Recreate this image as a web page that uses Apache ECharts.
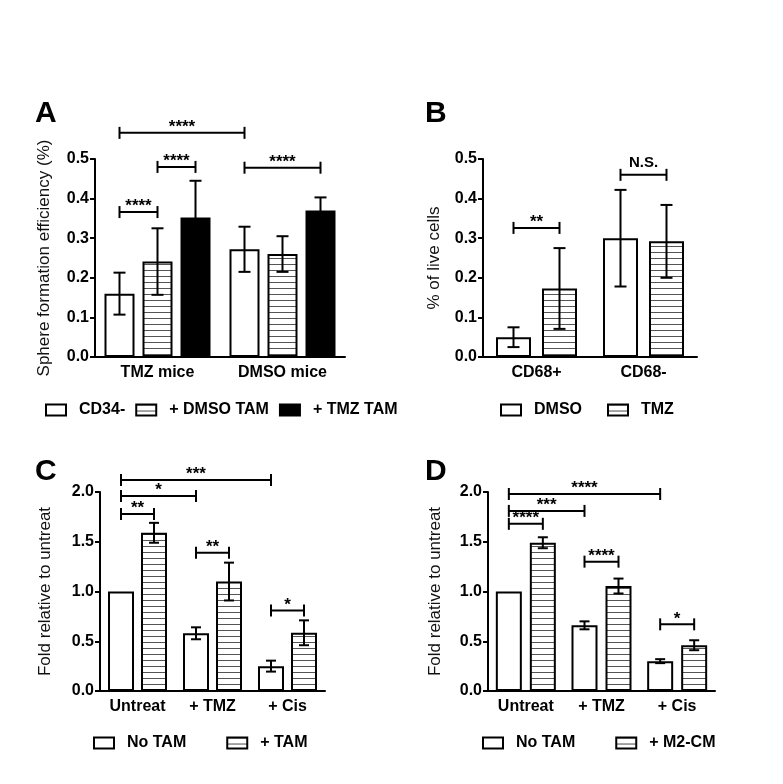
<!DOCTYPE html>
<html>
<head>
<meta charset="utf-8">
<title>TAM figure</title>
<script src="https://cdn.jsdelivr.net/npm/echarts@6/dist/echarts.min.js"></script>
<style>
  html, body { margin: 0; padding: 0; background: #fff; }
  #chart { width: 783px; height: 784px; }
</style>
</head>
<body>
<div id="chart"></div>
<script>
  // panel A - sphere formation
  var catsA = ['TMZ mice', 'DMSO mice']
  var cd34A = [0.16, 0.272]
  var cd34ErrA = [0.053, 0.057]
  var dmsoTamA = [0.241, 0.26]
  var dmsoTamErrA = [0.084, 0.045]
  var tmzTamA = [0.352, 0.37]
  var tmzTamErrA = [0.093, 0.033]
  // [cat1, bar1, cat2, bar2, height, label]
  var sigA = [[0, 0, 1, 0, 0.566, '****'], [0, 1, 0, 2, 0.48, '****'], [0, 0, 0, 1, 0.366, '****'], [1, 0, 1, 2, 0.478, '****']]

  // panel B - % of live cells
  var catsB = ['CD68+', 'CD68-']
  var dmsoB = [0.05, 0.30]
  var dmsoErrB = [0.025, 0.122]
  var tmzB = [0.173, 0.292]
  var tmzErrB = [0.102, 0.092]
  var sigB = [[0, 0, 0, 1, 0.326, '**'], [1, 0, 1, 1, 0.46, 'N.S.']]

  // panel C - fold relative to untreat (TAM)
  var catsC = ['Untreat', '+ TMZ', '+ Cis']
  var noTamC = [1.0, 0.58, 0.25]
  var noTamErrC = [0, 0.06, 0.055]
  var tamC = [1.59, 1.10, 0.585]
  var tamErrC = [0.10, 0.19, 0.125]
  var sigC = [[0, 0, 2, 0, 2.12, '***'], [0, 0, 1, 0, 1.96, '*'], [0, 0, 0, 1, 1.78, '**'], [1, 0, 1, 1, 1.39, '**'], [2, 0, 2, 1, 0.81, '*']]

  // panel D - fold relative to untreat (M2-CM)
  var catsD = ['Untreat', '+ TMZ', '+ Cis']
  var noTamD = [1.0, 0.66, 0.30]
  var noTamErrD = [0, 0.04, 0.02]
  var m2cmD = [1.49, 1.055, 0.46]
  var m2cmErrD = [0.055, 0.075, 0.05]
  var sigD = [[0, 0, 2, 0, 1.98, '****'], [0, 0, 1, 0, 1.81, '***'], [0, 0, 0, 1, 1.68, '****'], [1, 0, 1, 1, 1.30, '****'], [2, 0, 2, 1, 0.67, '*']]

  var FONT = '"Liberation Sans", Arial, sans-serif'

  // horizontal hatch used for the striped bars
  function hatch() {
    var c = document.createElement('canvas')
    c.width = 6
    c.height = 6
    var ctx = c.getContext('2d')
    ctx.fillStyle = '#fff'
    ctx.fillRect(0, 0, 6, 6)
    ctx.fillStyle = '#555'
    ctx.fillRect(0, 0, 6, 1)
    return c
  }
  var striped = { image: hatch(), repeat: 'repeat' }

  // bar layout per panel: width and gap in px, bars per group
  var layout = [
    { bw: 30, gap: 8, n: 3, cap: 6 },
    { bw: 35, gap: 11, n: 2, cap: 6 },
    { bw: 26, gap: 7, n: 2, cap: 5 },
    { bw: 26, gap: 8, n: 2, cap: 5 }
  ]

  function offset(gi, si) {
    var l = layout[gi]
    return (si - (l.n - 1) / 2) * (l.bw + l.gap)
  }

  function bar(gi, si, name, values, fill) {
    var l = layout[gi]
    return {
      type: 'bar', name: name, xAxisIndex: gi, yAxisIndex: gi,
      data: values, barWidth: l.bw, barGap: (l.gap / l.bw * 100) + '%',
      itemStyle: { color: fill, borderColor: '#000', borderWidth: 2 },
      animation: false
    }
  }

  function errorBars(gi, si, values, errs) {
    return {
      type: 'custom', xAxisIndex: gi, yAxisIndex: gi, z: 5, silent: true, animation: false,
      data: values.map(function (v, i) { return [i, v - errs[i], v + errs[i]] }),
      renderItem: function (params, api) {
        if (api.value(1) === api.value(2)) return
        var lo = api.coord([api.value(0), api.value(1)])
        var hi = api.coord([api.value(0), api.value(2)])
        var x = lo[0] + offset(gi, si)
        var h = layout[gi].cap
        var st = { stroke: '#000', lineWidth: 2 }
        return {
          type: 'group', children: [
            { type: 'line', shape: { x1: x, y1: lo[1], x2: x, y2: hi[1] }, style: st },
            { type: 'line', shape: { x1: x - h, y1: hi[1], x2: x + h, y2: hi[1] }, style: st },
            { type: 'line', shape: { x1: x - h, y1: lo[1], x2: x + h, y2: lo[1] }, style: st }
          ]
        }
      }
    }
  }

  function brackets(gi, sig) {
    return {
      type: 'custom', xAxisIndex: gi, yAxisIndex: gi, z: 6, silent: true, animation: false, clip: false,
      data: sig.map(function (s) { return [s[0], s[4], s[2], s[1], s[3]] }),
      renderItem: function (params, api) {
        var a = api.coord([api.value(0), api.value(1)])
        var b = api.coord([api.value(2), api.value(1)])
        var x1 = a[0] + offset(gi, api.value(3))
        var x2 = b[0] + offset(gi, api.value(4))
        var y = a[1]
        var label = sig[params.dataIndex][5]
        var st = { stroke: '#000', lineWidth: 2 }
        var stars = label.indexOf('*') >= 0
        return {
          type: 'group', children: [
            { type: 'line', shape: { x1: x1, y1: y, x2: x2, y2: y }, style: st },
            { type: 'line', shape: { x1: x1, y1: y - 6, x2: x1, y2: y + 6 }, style: st },
            { type: 'line', shape: { x1: x2, y1: y - 6, x2: x2, y2: y + 6 }, style: st },
            {
              type: 'text', x: (x1 + x2) / 2, y: stars ? y + 3 : y - 4,
              style: {
                text: label, fill: '#000', align: 'center', verticalAlign: 'bottom',
                font: (stars ? 'bold 17px ' : 'bold 15px ') + FONT
              }
            }
          ]
        }
      }
    }
  }

  function xAx(gi, cats) {
    return {
      type: 'category', gridIndex: gi, data: cats,
      axisLine: { lineStyle: { color: '#000', width: 2 } },
      axisTick: { alignWithLabel: true, length: 5, lineStyle: { color: '#000', width: 2 } },
      axisLabel: { color: '#000', fontWeight: 'bold', fontSize: 16, fontFamily: FONT, margin: 8 }
    }
  }

  function yAx(gi, max, interval, name, gap) {
    return {
      type: 'value', gridIndex: gi, min: 0, max: max, interval: interval,
      name: name, nameLocation: 'middle', nameGap: gap,
      nameTextStyle: { color: '#111', fontSize: 17, fontFamily: FONT },
      axisLine: { show: true, lineStyle: { color: '#000', width: 2 } },
      axisTick: { show: true, length: 5, lineStyle: { color: '#000', width: 2 } },
      axisLabel: {
        color: '#000', fontWeight: 'bold', fontSize: 16, fontFamily: FONT, margin: 6,
        formatter: function (v) { return v.toFixed(1) }
      },
      splitLine: { show: false }
    }
  }

  function legend(names, left, top, gap) {
    return {
      data: names, left: left, top: top, padding: 0, itemWidth: 20, itemHeight: 11, itemGap: gap,
      icon: 'rect', selectedMode: false,
      formatter: '{t|{name}}',
      textStyle: {
        color: '#000', fontWeight: 'bold', fontSize: 16, fontFamily: FONT,
        rich: { t: { color: '#000', fontWeight: 'bold', fontSize: 16, fontFamily: FONT, padding: [0, 0, 0, 8] } }
      }
    }
  }

  function letter(t, x, y) {
    return { type: 'text', left: x, top: y, style: { text: t, fill: '#000', font: 'bold 30px ' + FONT } }
  }

  var chart = echarts.init(document.getElementById('chart'), null, { renderer: 'canvas' })
  chart.setOption({
    backgroundColor: '#fff',
    animation: false,
    grid: [
      { left: 95, top: 159, width: 250, height: 198 },
      { left: 483, top: 159, width: 214, height: 198 },
      { left: 100, top: 492, width: 225, height: 199 },
      { left: 488, top: 492, width: 227, height: 199 }
    ],
    xAxis: [xAx(0, catsA), xAx(1, catsB), xAx(2, catsC), xAx(3, catsD)],
    yAxis: [
      yAx(0, 0.5, 0.1, 'Sphere formation efficiency (%)', 42),
      yAx(1, 0.5, 0.1, '% of live cells', 40),
      yAx(2, 2.0, 0.5, 'Fold relative to untreat', 46),
      yAx(3, 2.0, 0.5, 'Fold relative to untreat', 44)
    ],
    legend: [
      legend(['CD34-', '+ DMSO TAM', '+ TMZ TAM'], 45, 402, 10),
      legend(['DMSO', 'TMZ'], 500, 402, 25),
      legend(['No TAM', '+ TAM'], 93, 735, 40),
      legend(['No TAM', '+ M2-CM'], 482, 735, 40)
    ],
    graphic: [letter('A', 35, 99), letter('B', 425, 99), letter('C', 35, 457), letter('D', 425, 457)],
    series: [
      bar(0, 0, 'CD34-', cd34A, '#fff'),
      bar(0, 1, '+ DMSO TAM', dmsoTamA, striped),
      bar(0, 2, '+ TMZ TAM', tmzTamA, '#000'),
      errorBars(0, 0, cd34A, cd34ErrA),
      errorBars(0, 1, dmsoTamA, dmsoTamErrA),
      errorBars(0, 2, tmzTamA, tmzTamErrA),
      brackets(0, sigA),

      bar(1, 0, 'DMSO', dmsoB, '#fff'),
      bar(1, 1, 'TMZ', tmzB, striped),
      errorBars(1, 0, dmsoB, dmsoErrB),
      errorBars(1, 1, tmzB, tmzErrB),
      brackets(1, sigB),

      bar(2, 0, 'No TAM', noTamC, '#fff'),
      bar(2, 1, '+ TAM', tamC, striped),
      errorBars(2, 0, noTamC, noTamErrC),
      errorBars(2, 1, tamC, tamErrC),
      brackets(2, sigC),

      bar(3, 0, 'No TAM', noTamD, '#fff'),
      bar(3, 1, '+ M2-CM', m2cmD, striped),
      errorBars(3, 0, noTamD, noTamErrD),
      errorBars(3, 1, m2cmD, m2cmErrD),
      brackets(3, sigD)
    ]
  })
</script>
</body>
</html>
